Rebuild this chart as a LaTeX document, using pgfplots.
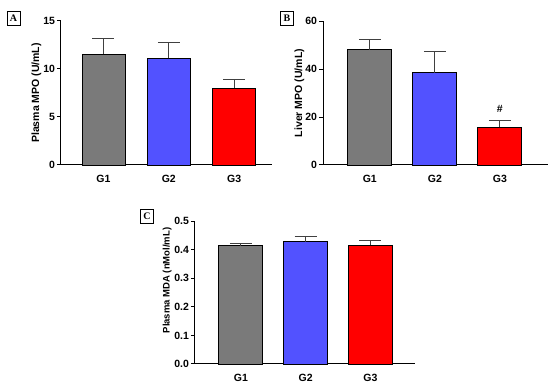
\documentclass[border=0pt]{standalone}
\usepackage{pgfplots}
\pgfplotsset{compat=1.18}
\usepackage{fontspec}
\setmainfont{Liberation Sans}
\newfontfamily\seriffont{Liberation Serif}
\definecolor{gbar}{HTML}{7A7A7A}
\definecolor{bbar}{HTML}{5252FF}
\definecolor{rbar}{HTML}{FF0000}
\pgfplotsset{
  panel/.style={
    scale only axis,
    axis lines=left,
    axis line style={line width=1pt,-},
    ymin=0,
    xtick={1,2,3},
    xticklabels={G1,G2,G3},
    major tick length=4pt,
    tick style={line width=1pt,black},
    x tick style={draw=none},
    tick align=outside,
    /pgf/number format/assume math mode=true,
    ticklabel style={font=\fontsize{10.5}{12}\selectfont\bfseries},
    yticklabel style={xshift=1.5pt},
    xticklabel style={yshift=-3pt},
    ylabel style={font=\fontsize{10.5}{12}\selectfont\bfseries},
    ybar, bar shift=0pt,
    clip=false,
    every axis plot/.append style={draw=black,line width=0.9pt,
      error bars/y dir=plus, error bars/y explicit,
      error bars/error bar style={black!75,line width=0.9pt},
      error bars/error mark options={rotate=90,mark size=11pt,black!75,line width=0.9pt}},
  },
}
\tikzset{letter/.style={draw=black,line width=0.8pt,inner sep=1.5pt,font=\seriffont\bfseries\fontsize{10}{11}\selectfont,minimum width=13pt,minimum height=13.5pt}}
\begin{document}
\begin{tikzpicture}
\path[use as bounding box] (0,0) rectangle (550pt,-385pt);
% Panel A
\begin{axis}[panel, at={(61pt,-165pt)}, anchor=south west,
  width=211pt, height=144pt, xmin=0.35, xmax=3.58, ymax=15,
  ytick={0,5,10,15}, bar width=43pt, ylabel shift=-5pt,
  ylabel={Plasma MPO (U/mL)}]
\addplot[fill=gbar] coordinates {(1,11.55) +- (0,1.65)};
\addplot[fill=bbar] coordinates {(2,11.1) +- (0,1.7)};
\addplot[fill=rbar] coordinates {(3,8.0) +- (0,0.9)};
\end{axis}
\node[letter] at (13.5pt,-18.5pt) {A};
% Panel B
\begin{axis}[panel, at={(323pt,-165pt)}, anchor=south west,
  width=225pt, height=144pt, xmin=0.28, xmax=3.74, ymax=60,
  ytick={0,20,40,60}, bar width=44pt, ylabel shift=-6pt,
  ylabel={Liver MPO (U/mL)}]
\addplot[fill=gbar] coordinates {(1,48.0) +- (0,4.5)};
\addplot[fill=bbar] coordinates {(2,38.5) +- (0,9.0)};
\addplot[fill=rbar] coordinates {(3,15.8) +- (0,2.9)};
\node[font=\fontsize{10.5}{12}\selectfont\bfseries] at (axis cs:3,23.5) {\#};
\end{axis}
\node[letter] at (287pt,-18.5pt) {B};
% Panel C
\begin{axis}[panel, at={(195pt,-364pt)}, anchor=south west,
  width=220pt, height=143pt, xmin=0.29, xmax=3.69, ymax=0.5,
  ytick={0,0.1,0.2,0.3,0.4,0.5}, bar width=44pt, ylabel shift=-4pt,
  yticklabel style={/pgf/number format/.cd,fixed,fixed zerofill,precision=1},
  ylabel style={font=\fontsize{9.5}{11}\selectfont\bfseries, xshift=12pt},
  ylabel={Plasma MDA (nMol/mL)}]
\addplot[fill=gbar] coordinates {(1,0.413) +- (0,0.009)};
\addplot[fill=bbar] coordinates {(2,0.427) +- (0,0.018)};
\addplot[fill=rbar] coordinates {(3,0.415) +- (0,0.017)};
\end{axis}
\node[letter] at (147pt,-216.5pt) {C};
\end{tikzpicture}
\end{document}
